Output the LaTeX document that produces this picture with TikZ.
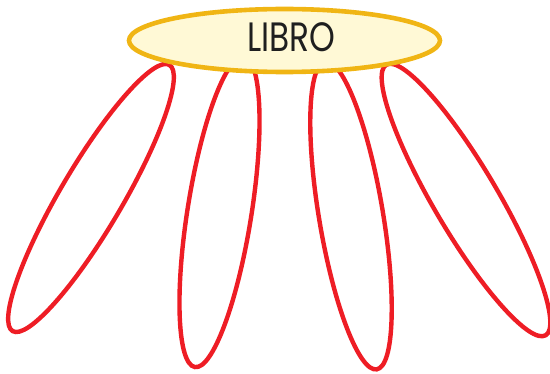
\documentclass[tikz,border=0pt]{standalone}
\usepackage{fontspec}
\setmainfont{Poppins}
\usetikzlibrary{shapes.geometric}
\definecolor{petalred}{HTML}{EE1D25}
\definecolor{hubline}{HTML}{F0B514}
\definecolor{hubfill}{HTML}{FFF9D6}
\tikzset{
  petal/.style={ellipse, draw=petalred, line width=4.4pt, inner sep=0pt,
    minimum width=#1, minimum height=62pt},
  hub/.style={ellipse, draw=hubline, fill=hubfill, line width=4.6pt, inner sep=0pt,
    minimum width=311pt, minimum height=63pt},
  hubtext/.style={inner sep=0pt, font=\fontsize{41}{41}\selectfont, text=black!88}
}
\begin{document}
\begin{tikzpicture}[x=1pt,y=-1pt]
\useasboundingbox (0,0) rectangle (550,374);
\node[petal=309pt, rotate=59.5] (p1) at (91,198) {};
\node[petal=314pt, minimum height=64pt, rotate=81] (p2) at (219.5,212) {};
\node[petal=312pt, minimum height=64pt, rotate=99.5] (p3) at (351,215.5) {};
\node[petal=314pt, minimum height=64pt, rotate=120.5] (p4) at (466,200) {};
\node[hub] (libro) at (284.5,40.5) {};
\node[hubtext, xscale=0.8] (lbl) at (291.5,37.5) {LIBRO};
\end{tikzpicture}
\end{document}
